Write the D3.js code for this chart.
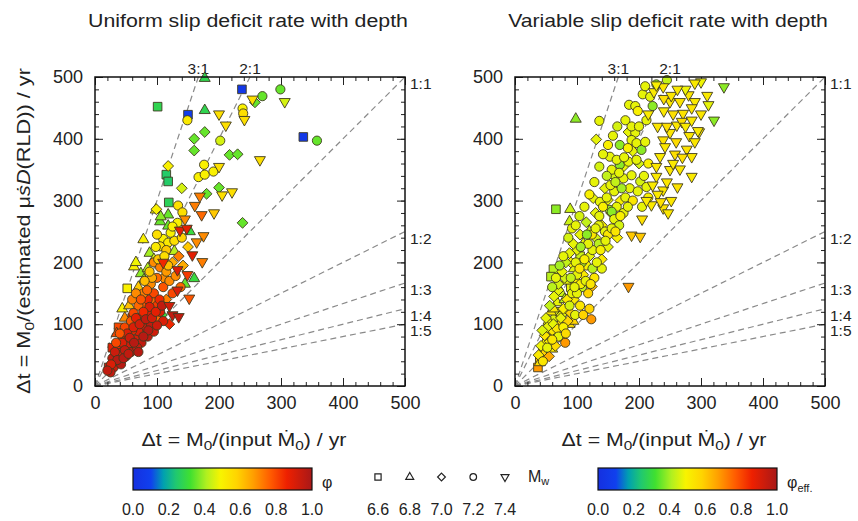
<!DOCTYPE html>
<html>
<head>
<meta charset="utf-8">
<script src="https://cdn.jsdelivr.net/npm/d3@7"></script>
<style>
  body { margin: 0; background: #fff; }
  text { font-family: "Liberation Sans", Arial, Helvetica, sans-serif; fill: #222; }
</style>
</head>
<body>
<svg id="chart" width="858" height="521"></svg>
<script>
// ---- Uniform slip deficit rate with depth: [dt input, dt estimated, phi] by magnitude ----
const uniformMw66 = [[101,452,.28],[150,439,.08],[237,480,.05],[336,403,.05],[115,342,.25],[118,331,.25],[119,297,.27],[52,158,.5],[38,95,.8],[28,62,.88],[45,80,.9],[33,45,.92],[60,110,.85],[22,30,.95]];
const uniformMw68 = [[177,498,.28],[177,446,.28],[118,277,.35],[105,266,.35],[118,259,.35],[153,250,.3],[78,237,.5],[98,285,.5],[106,274,.38],[160,174,.3],[74,182,.38],[79,172,.38],[63,193,.5],[44,125,.5],[66,200,.48],[88,215,.4],[95,205,.45],[70,160,.6],[55,130,.62],[48,110,.7],[35,85,.8],[85,190,.42],[112,228,.4],[128,218,.42],[145,165,.35]];
const uniformMw70 = [[258,459,.35],[177,411,.35],[160,400,.35],[160,381,.35],[217,374,.35],[230,375,.35],[200,321,.35],[180,311,.35],[238,264,.35],[108,115,.3],[118,356,.5],[99,286,.5],[140,320,.45],[125,200,.65],[135,210,.72],[110,175,.7],[95,140,.75],[80,128,.78],[65,100,.85],[115,140,.72],[100,110,.75],[50,75,.9],[120,100,.85],[142,195,.65],[150,225,.6]];
const uniformMw72 = [[299,480,.35],[270,469,.35],[238,449,.5],[239,441,.55],[149,430,.52],[202,397,.45],[358,397,.35],[176,358,.5],[167,338,.5],[177,342,.5],[191,347,.5],[134,292,.55],[141,281,.55],[133,264,.5],[110,238,.5],[118,232,.52],[128,235,.55],[122,248,.5],[105,226,.55],[115,220,.6],[100,245,.55],[125,258,.5],[140,240,.58],[95,200,.7],[105,192,.72],[115,185,.68],[100,175,.75],[90,165,.7],[110,160,.78],[120,170,.7],[95,150,.8],[85,140,.85],[100,130,.82],[130,178,.7],[138,160,.75],[125,150,.8],[105,120,.9],[90,118,.88],[75,112,.88],[80,95,.92],[70,88,.9],[60,90,.85],[90,100,.95],[110,105,.9],[65,75,.9],[55,65,.92],[75,70,.95],[45,60,.88],[40,50,.92],[50,48,.95],[35,38,.9],[30,30,.93],[42,35,.97],[25,22,.95],[58,55,.97],[85,80,.95],[95,88,.92],[68,62,.93],[38,68,.85],[48,95,.8],[58,105,.78],[70,130,.75],[78,150,.72],[62,118,.8],[88,128,.9],[100,98,.93],
  [28,45,.95],[32,55,.93],[36,42,.97],[44,70,.9],[48,58,.95],[52,85,.9],[56,78,.93],[62,95,.9],[66,110,.88],[72,100,.92],[78,120,.85],[82,108,.95],[86,90,.97],[92,110,.92],[98,120,.88],[104,140,.85],[108,130,.95],[60,140,.72],[66,150,.7],[74,140,.78],[84,155,.75],[92,175,.65],[80,170,.62],[88,185,.6],[102,205,.6],[112,210,.55],[98,225,.52],[118,195,.62],[34,70,.8],[40,85,.78],[26,35,.9],[20,25,.95],[46,45,.97],[54,52,.95],[63,70,.97],[78,80,.97],[70,55,.97]];
const uniformMw74 = [[306,460,.45],[254,464,.55],[241,431,.55],[200,440,.55],[211,422,.55],[266,366,.55],[200,355,.55],[205,309,.55],[221,314,.55],[169,307,.72],[161,292,.72],[172,277,.75],[192,280,.6],[137,252,.88],[148,255,.88],[175,243,.7],[164,233,.7],[173,201,.72],[157,212,.88],[133,188,.9],[149,180,.82],[133,155,.9],[152,142,.78],[125,115,.95],[135,112,.95],[110,200,.85],[120,130,.92],[145,270,.7]];

// ---- Variable slip deficit rate with depth: [dt input, dt estimated, phi_eff] by magnitude ----
const variableMw66 = [[66,286,.38],[62,189,.42],[58,177,.42],[37,30,.68],[45,60,.5],[52,80,.55],[70,120,.46],[90,160,.47],[105,210,.44],[40,45,.6]];
const variableMw68 = [[98,432,.38],[89,286,.44],[88,266,.44],[48,70,.5],[55,95,.5],[62,110,.46],[68,135,.47],[75,150,.44],[82,170,.47],[58,120,.52],[72,100,.58],[50,55,.56],[95,190,.46],[110,230,.47],[120,250,.44],[80,140,.42],[66,82,.53],[85,120,.5],[100,170,.52],
  [40,38,.55],[46,52,.58],[60,60,.52],[64,88,.58],[76,78,.62],[88,100,.55],[94,105,.58],[54,105,.48],[62,125,.52]];
const variableMw70 = [[131,399,.47],[183,411,.47],[55,48,.65],[124,161,.62],[150,301,.47],[126,304,.47],[70,155,.47],[80,175,.45],[90,200,.5],[100,220,.47],[110,180,.52],[120,210,.47],[130,240,.45],[140,260,.5],[115,265,.43],[105,245,.47],[60,90,.53],[75,115,.47],[95,140,.52],[85,105,.58],[65,65,.56],[130,280,.47],[145,320,.47],[160,340,.45],[170,300,.5],[155,280,.52],[175,355,.47],[190,380,.47],[200,360,.45],[165,240,.5],[140,205,.52],[150,225,.47],
  [38,50,.52],[42,65,.48],[48,82,.53],[52,95,.47],[56,72,.5],[62,100,.47],[68,92,.53],[74,110,.47],[78,125,.5],[84,140,.52],[90,118,.58],[44,90,.46],[50,110,.47],[56,130,.43],[63,145,.47],[70,165,.45],[76,185,.47],[82,200,.43],[88,215,.47],[94,230,.47]];
const variableMw72 = [[136,429,.47],[206,472,.47],[184,455,.47],[194,453,.47],[222,453,.38],[228,488,.38],[194,410,.47],[188,398,.47],[196,393,.47],[169,390,.38],[169,358,.38],[204,382,.38],[153,371,.47],[164,366,.47],[183,363,.47],[196,366,.47],[156,350,.47],[175,336,.47],[188,341,.47],[202,331,.45],[212,322,.47],[137,298,.47],[153,285,.4],[164,290,.47],[156,282,.38],[123,108,.68],[81,70,.68],[178,305,.47],[185,320,.47],[160,270,.47],[145,250,.47],[135,230,.42],[125,220,.47],[115,195,.5],[108,200,.4],[100,180,.47],[92,150,.47],[88,130,.45],[78,95,.5],[70,80,.47],[60,75,.53],[52,62,.47],[45,40,.53],[140,190,.47],[128,175,.53],[118,150,.58],[105,130,.53],[97,115,.47],[82,85,.56],[108,160,.43],[168,260,.45],[175,280,.47],[190,300,.53],[205,290,.47],[215,305,.5],[160,315,.47],[148,340,.43],[172,320,.4],[125,190,.42],[135,260,.47],[150,245,.53],[120,125,.58],[110,115,.58],
  [60,160,.42],[66,175,.47],[72,195,.4],[78,210,.47],[86,240,.45],[92,255,.47],[98,200,.47],[104,190,.53],[112,205,.5],[118,230,.47],[124,245,.53],[130,255,.47],[136,275,.47],[142,290,.5],[148,305,.47],[154,325,.47],[162,330,.43],[168,345,.47],[176,370,.47],[182,385,.5],[188,420,.47],[178,430,.47],[165,420,.45],[158,405,.47],[150,390,.5],[142,375,.47],[136,355,.45],[128,330,.47],[120,310,.5],[112,290,.47],[104,275,.45],[98,260,.47],[106,225,.4],[116,245,.38],[100,150,.47],[106,165,.5],[114,170,.47],[122,165,.53],[96,160,.47],[90,175,.43],[132,200,.47],[138,220,.5],[146,235,.47],[156,255,.47],[162,250,.53],[170,275,.5],[182,290,.47],[198,315,.47],[208,340,.47],[215,360,.5],[210,395,.47],[200,420,.47],[212,430,.47],[198,445,.5],[218,468,.47],[210,485,.47],[245,495,.43]];
const variableMw74 = [[224,476,.52],[239,484,.53],[228,487,.5],[300,492,.48],[337,484,.38],[321,430,.38],[297,411,.53],[250,460,.53],[266,460,.54],[280,471,.53],[271,441,.54],[290,460,.52],[261,422,.53],[269,428,.55],[281,405,.53],[277,383,.54],[285,371,.53],[266,351,.53],[285,339,.52],[239,398,.54],[242,387,.53],[234,371,.52],[228,355,.53],[228,339,.52],[239,317,.53],[220,293,.52],[239,288,.54],[247,280,.53],[295,413,.52],[183,161,.68],[188,244,.6],[202,242,.6],[255,440,.55],[250,410,.53],[260,395,.56],[240,445,.52],[230,420,.53],[215,440,.52],[258,375,.55],[250,350,.53],[230,310,.52],[245,330,.53],[205,270,.55],[275,480,.48],[310,470,.52],[290,490,.52],[240,465,.55],
  [252,470,.53],[262,480,.52],[285,450,.53],[275,420,.52],[290,395,.53],[270,370,.55],[255,360,.52],[222,325,.52],[252,300,.53],[262,322,.54],[235,298,.55],[300,440,.53],[285,430,.52],[312,455,.47],[245,420,.55],[212,300,.52]];

// Magnitude classes and reference ratio lines
const magnitudes = [6.6, 6.8, 7.0, 7.2, 7.4];
const magnitudeLabels = ["6.6", "6.8", "7.0", "7.2", "7.4"];
const ratioSlopes = [3, 2, 1, 1/2, 1/3, 1/4, 1/5];
const ratioLabels = ["3:1", "2:1", "1:1", "1:2", "1:3", "1:4", "1:5"];
const axisTicks = [0, 100, 200, 300, 400, 500];
const colorbarTicks = [0, 0.2, 0.4, 0.6, 0.8, 1.0];

// Colour table used for phi
const cmapStops  = [0, 0.1, 0.17, 0.24, 0.32, 0.41, 0.49, 0.58, 0.67, 0.77, 0.86, 1.0];
const cmapColors = ["#1530e0", "#1040ee", "#00a0b0", "#20c870", "#40e030", "#b0f020", "#f8f400", "#ffd400", "#ffa000", "#ff5a00", "#ee2000", "#a81818"];
const color = d3.scaleLinear().domain(cmapStops).range(cmapColors).clamp(true);

const svg = d3.select("#chart");
const W = 310, H = 309;
const panelTop = 77;
const x = d3.scaleLinear().domain([0, 500]).range([0, W]);
const y = d3.scaleLinear().domain([0, 500]).range([H, 0]);

// Marker shapes per magnitude
const sq = Math.sqrt(3);
function markerPath(mw, s) {
  const k = s || 1;
  if (mw === 6.6) { const h = 4.3 * k; return `M${-h},${-h}H${h}V${h}H${-h}Z`; }
  if (mw === 6.8) { const a = 11 * k, r = a / sq; return `M0,${-r}L${a/2},${r/2}L${-a/2},${r/2}Z`; }
  if (mw === 7.0) { const h = 5.4 * k; return `M0,${-h}L${h},0L0,${h}L${-h},0Z`; }
  if (mw === 7.2) { const r = 4.6 * k; return `M${r},0A${r},${r} 0 1,1 ${-r},0A${r},${r} 0 1,1 ${r},0Z`; }
  const a = 11 * k, r = a / sq; return `M0,${r}L${a/2},${-r/2}L${-a/2},${-r/2}Z`;
}

// Stretch a text element horizontally to a given width about its anchor point
function fitText(sel, cx, cy, width, rotate) {
  const w = sel.node().getComputedTextLength();
  sel.attr("x", 0).attr("y", 0)
    .attr("transform", `translate(${cx},${cy})${rotate ? " rotate(-90)" : ""} scale(${width / w},1)`);
}

const panels = [
  { left: 95,  title: "Uniform slip deficit rate with depth",
    groups: [uniformMw66, uniformMw68, uniformMw70, uniformMw72, uniformMw74] },
  { left: 515, title: "Variable slip deficit rate with depth",
    groups: [variableMw66, variableMw68, variableMw70, variableMw72, variableMw74] }
];

panels.forEach((p) => {
  const g = svg.append("g").attr("transform", `translate(${p.left},${panelTop})`);

  const tt = svg.append("text").attr("text-anchor", "middle").attr("font-size", 19).text(p.title);
  fitText(tt, p.left + W / 2 - 2, 27, 320);

  // reference ratio lines
  ratioSlopes.forEach((k, i) => {
    const x1 = k >= 1 ? 500 / k : 500, y1 = k >= 1 ? 500 : 500 * k;
    g.append("line").attr("x1", x(0)).attr("y1", y(0)).attr("x2", x(x1)).attr("y2", y(y1))
      .attr("stroke", "#8a8a8a").attr("stroke-width", 1.2).attr("stroke-dasharray", "6,4");
    if (k > 1) {
      g.append("text").attr("x", x(x1)).attr("y", -3).attr("text-anchor", "middle")
        .attr("font-size", 15.5).text(ratioLabels[i]);
    } else {
      g.append("text").attr("x", W + 5).attr("y", y(y1) + 12).attr("text-anchor", "start")
        .attr("font-size", 15.5).text(ratioLabels[i]);
    }
  });

  // axes with inward ticks
  const minor = d3.range(0, 501, 20);
  g.append("g").attr("transform", `translate(0,${H})`)
    .call(d3.axisBottom(x).tickValues(minor).tickSize(-4).tickFormat(""));
  g.append("g").attr("transform", `translate(0,${H})`)
    .call(d3.axisBottom(x).tickValues(axisTicks).tickSize(-8).tickPadding(10).tickFormat(d3.format("d")));
  g.append("g").call(d3.axisTop(x).tickValues(minor).tickSize(-4).tickFormat(""));
  g.append("g").call(d3.axisTop(x).tickValues(axisTicks).tickSize(-8).tickFormat(""));
  g.append("g").call(d3.axisLeft(y).tickValues(minor).tickSize(-4).tickFormat(""));
  g.append("g").call(d3.axisLeft(y).tickValues(axisTicks).tickSize(-8).tickPadding(12).tickFormat(d3.format("d")));
  g.append("g").attr("transform", `translate(${W},0)`)
    .call(d3.axisRight(y).tickValues(minor).tickSize(-4).tickFormat(""));
  g.append("g").attr("transform", `translate(${W},0)`)
    .call(d3.axisRight(y).tickValues(axisTicks).tickSize(-8).tickFormat(""));
  g.selectAll(".domain").remove();
  g.selectAll(".tick line").attr("stroke", "#222");
  g.selectAll(".tick text").attr("font-size", 18).attr("fill", "#222")
    .style("font-family", "'Liberation Sans', Arial, sans-serif");

  // markers
  p.groups.forEach((pts, mi) => {
    const mw = magnitudes[mi];
    g.append("g").selectAll("path").data(pts).join("path")
      .attr("d", markerPath(mw))
      .attr("transform", d => `translate(${x(d[0])},${y(d[1])})`)
      .attr("fill", d => color(d[2]))
      .attr("stroke", "#3e3a20").attr("stroke-width", 0.9);
  });

  g.append("rect").attr("width", W).attr("height", H)
    .attr("fill", "none").attr("stroke", "#111").attr("stroke-width", 1.5);

  // x axis title
  const xt = svg.append("text").attr("text-anchor", "middle").attr("font-size", 18);
  xt.append("tspan").text("\u0394t = M");
  xt.append("tspan").attr("dy", 4).attr("font-size", 13).text("0");
  xt.append("tspan").attr("dy", -4).text("/(input \u1E40");
  xt.append("tspan").attr("dy", 4).attr("font-size", 13).text("0");
  xt.append("tspan").attr("dy", -4).text(") / yr");
  fitText(xt, p.left + W / 2 - 6, 446, 205);
});

// y axis title (left panel only)
const yt = svg.append("text").attr("text-anchor", "middle").attr("font-size", 18);
yt.append("tspan").text("\u0394t = M");
yt.append("tspan").attr("dy", 4).attr("font-size", 13).text("0");
yt.append("tspan").attr("dy", -4).text("/(estimated \u03BC");
yt.append("tspan").attr("font-style", "italic").text("\u1E61D");
yt.append("tspan").text("(RLD)) / yr");
fitText(yt, 30, 231, 326, true);

// colour bars
const defs = svg.append("defs");
const grad = defs.append("linearGradient").attr("id", "phiGrad");
cmapStops.forEach((s, i) => grad.append("stop").attr("offset", s).attr("stop-color", cmapColors[i]));

function colorbar(x0, label, sub) {
  const cb = d3.scaleLinear().domain([0, 1]).range([x0, x0 + 179]);
  svg.append("rect").attr("x", x0).attr("y", 468).attr("width", 179).attr("height", 22)
    .attr("fill", "url(#phiGrad)").attr("stroke", "#111").attr("stroke-width", 1.2);
  svg.append("g").selectAll("text").data(colorbarTicks).join("text")
    .attr("x", d => cb(d)).attr("y", 515).attr("text-anchor", "middle")
    .attr("font-size", 16).text(d => d3.format(".1f")(d));
  const t = svg.append("text").attr("x", x0 + 189).attr("y", 488).attr("font-size", 16);
  t.append("tspan").text(label);
  if (sub) t.append("tspan").attr("dy", 4).attr("font-size", 11).text(sub);
}
colorbar(133, "\u03C6", null);
colorbar(598, "\u03C6", "eff.");

// magnitude legend
const legX = d3.scalePoint().domain(magnitudes).range([378, 505]);
magnitudes.forEach((mw, i) => {
  svg.append("path").attr("d", markerPath(mw, 0.72))
    .attr("transform", `translate(${legX(mw)},477)`)
    .attr("fill", "#fff").attr("stroke", "#222").attr("stroke-width", 1.2);
  svg.append("text").attr("x", legX(mw)).attr("y", 515).attr("text-anchor", "middle")
    .attr("font-size", 16).text(magnitudeLabels[i]);
});
const mwT = svg.append("text").attr("x", 528).attr("y", 482).attr("font-size", 16);
mwT.append("tspan").text("M");
mwT.append("tspan").attr("dy", 3).attr("font-size", 11).text("w");
</script>
</body>
</html>
